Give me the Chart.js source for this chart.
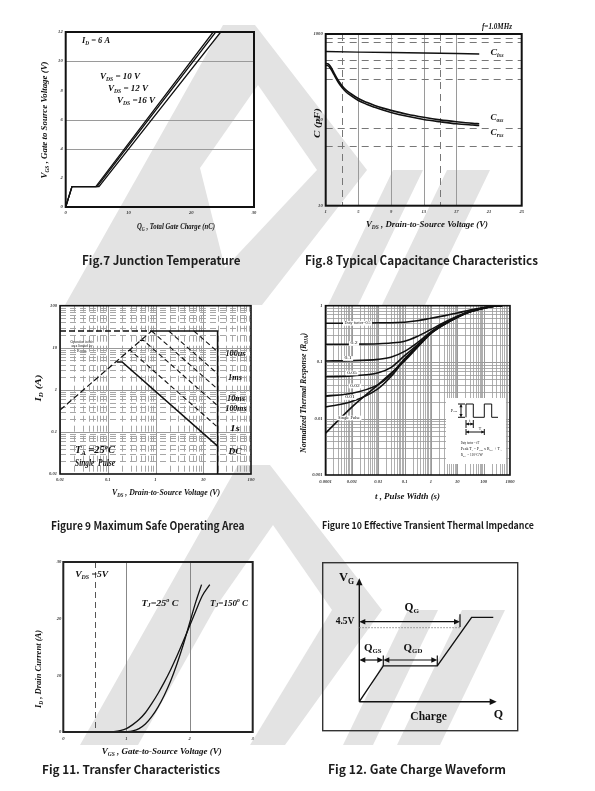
<!DOCTYPE html>
<html>
<head>
<meta charset="utf-8">
<script src="https://cdn.jsdelivr.net/npm/chart.js@4.4.1/dist/chart.umd.min.js"></script>
<style>
  html, body { margin:0; padding:0; background:#ffffff; }
  body { width:595px; height:791px; position:relative; overflow:hidden; }
  canvas { position:absolute; }
  .cap { position:absolute; font-family:"Noto Sans CJK SC","Noto Sans",sans-serif; font-weight:700; color:#1c1c1c; white-space:nowrap; transform-origin:0 50%; line-height:1; }
</style>
</head>
<body>
<canvas id="wm" width="595" height="791" style="left:0;top:0"></canvas>
<canvas id="c7"></canvas>
<canvas id="c8"></canvas>
<canvas id="c9"></canvas>
<canvas id="c10"></canvas>
<canvas id="c11"></canvas>
<canvas id="c12"></canvas>
<script>
// ================= DATA =================
// Fig.7 gate charge
const fig7XTicks = [0, 10, 20, 30];
const fig7YTicks = [0, 2, 4, 6, 8, 10, 12];
const fig7Q10 = [0, 1.0, 4.8, 23.5];
const fig7V10 = [0, 1.4, 1.4, 12];
const fig7Q12 = [0, 1.0, 5.0, 23.9];
const fig7V12 = [0, 1.4, 1.4, 12];
const fig7Q16 = [0, 1.0, 5.3, 24.7];
const fig7V16 = [0, 1.4, 1.4, 12];

// Fig.8 capacitance
const fig8XTicks = [1, 5, 9, 13, 17, 21, 25];
const fig8YTicks = [10, 100, 1000];
const fig8CissV = [1, 5, 9, 13, 17, 19.8];
const fig8Ciss = [625, 615, 607, 600, 593, 585];
const fig8V = [1, 1.25, 1.5, 1.75, 2, 2.5, 3, 3.5, 4, 5, 6, 7, 8, 9, 11, 13, 15, 17, 19, 19.8];
const fig8Coss = [455, 450, 430, 395, 355, 292, 250, 222, 204, 177, 160, 147, 137, 129, 116, 107, 100, 95, 91, 90];
const fig8Crss = [432, 428, 408, 375, 338, 278, 238, 211, 194, 168, 152, 140, 130, 122, 110, 101, 95, 90, 87, 86];

// Fig.9 SOA
const fig9Ticks = [0.01, 0.1, 1, 10, 100];
const fig9LimV = [0.01, 0.83];
const fig9LimI = [25, 25];
const fig9BoxV = [0.83, 20, 20];
const fig9BoxI = [25, 25, 0.01];
const fig9RdsV = [0.01, 0.83];
const fig9RdsI = [0.33, 25];
const fig9DcV = [0.155, 0.2, 20];
const fig9DcI = [4.6, 4.6, 0.046];
const fig9S1V = [0.265, 0.3, 20];
const fig9S1I = [8.6, 8.6, 0.13];
const fig9Ms100V = [0.47, 0.56, 20];
const fig9Ms100I = [15, 15, 0.42];
const fig9Ms10V = [0.83, 20];
const fig9Ms10I = [25, 1.04];
const fig9Ms1V = [1.9, 20];
const fig9Ms1I = [25, 2.4];
const fig9Us100V = [6.4, 20];
const fig9Us100I = [25, 8];

// Fig.10 transient thermal impedance
const fig10XTicks = [0.0001, 0.001, 0.01, 0.1, 1, 10, 100, 1000];
const fig10YTicks = [0.001, 0.01, 0.1, 1];
const fig10T = [1e-4, 1e-3, 1e-2, 3e-2, 0.1, 0.3, 1, 3, 10, 30, 100, 300, 500];
const fig10D50 = [0.49, 0.49, 0.50, 0.50, 0.51, 0.54, 0.60, 0.66, 0.74, 0.84, 0.93, 0.99, 1.0];
const fig10D20 = [0.207, 0.208, 0.212, 0.218, 0.235, 0.285, 0.38, 0.50, 0.65, 0.80, 0.92, 0.99, 1.0];
const fig10D10 = [0.105, 0.106, 0.112, 0.122, 0.155, 0.22, 0.345, 0.48, 0.64, 0.79, 0.91, 0.99, 1.0];
const fig10D05 = [0.055, 0.057, 0.065, 0.08, 0.13, 0.20, 0.335, 0.47, 0.635, 0.785, 0.91, 0.99, 1.0];
const fig10D02 = [0.025, 0.028, 0.04, 0.06, 0.115, 0.19, 0.33, 0.465, 0.63, 0.78, 0.905, 0.99, 1.0];
const fig10D01 = [0.016, 0.02, 0.034, 0.055, 0.11, 0.185, 0.325, 0.46, 0.625, 0.78, 0.905, 0.99, 1.0];
const fig10Single = [0.0055, 0.016, 0.04, 0.063, 0.105, 0.18, 0.32, 0.455, 0.62, 0.775, 0.90, 0.99, 1.0];
const fig10Labels = ['Duty factor=0.5', '0.2', '0.1', '0.05', '0.02', '0.01', 'Single Pulse'];

// Fig.11 transfer
const fig11XTicks = [0, 1, 2, 3];
const fig11YTicks = [0, 10, 20, 30];
const fig11V25 = [0, 0.9, 1.0, 1.1, 1.2, 1.3, 1.4, 1.5, 1.6, 1.7, 1.8, 1.9, 2.0, 2.1, 2.19];
const fig11I25 = [0, 0, 0.05, 0.2, 0.6, 1.4, 2.7, 4.4, 6.5, 9.0, 12.0, 15.4, 19.2, 23.0, 26.0];
const fig11V150 = [0, 0.7, 0.8, 0.9, 1.0, 1.1, 1.2, 1.3, 1.4, 1.5, 1.6, 1.7, 1.8, 1.9, 2.0, 2.1, 2.2, 2.32];
const fig11I150 = [0, 0.02, 0.08, 0.25, 0.6, 1.3, 2.2, 3.4, 5.0, 6.8, 8.8, 11.0, 13.4, 16.0, 18.7, 21.4, 24.0, 26.0];

// Fig.12 gate charge waveform (schematic units)
const fig12Q = [0, 1.23, 4.0, 5.76, 6.87];
const fig12V = [0, 2.13, 2.13, 5.02, 5.02];

// ================= HELPERS =================
const SERIF = '"Liberation Serif","DejaVu Serif",serif';
function pts(xs, ys) { return xs.map((x, i) => ({ x: x, y: ys[i] })); }

function parse(s) {
  const out = [];
  s.split(/(_\{[^}]*\}|\^\{[^}]*\})/).forEach(seg => {
    if (!seg) return;
    if (seg.startsWith('_{')) out.push([seg.slice(2, -1), 1]);
    else if (seg.startsWith('^{')) out.push([seg.slice(2, -1), 2]);
    else out.push([seg, 0]);
  });
  return out;
}

function richText(ctx, str, x, y, o) {
  const parts = parse(str);
  const size = o.size || 9;
  const fam = o.family || SERIF;
  const st = o.style === undefined ? 'italic' : o.style;
  const wt = o.weight === undefined ? 'bold' : o.weight;
  const font = k => `${st} ${wt} ${k ? size * 0.62 : size}px ${fam}`;
  ctx.save();
  let w = 0;
  for (const [t, k] of parts) { ctx.font = font(k); w += ctx.measureText(t).width; }
  const sx = o.w ? o.w / w : 1;
  ctx.translate(x, y);
  if (o.rot) ctx.rotate(o.rot);
  ctx.scale(sx, 1);
  let cx = o.align === 'left' ? 0 : (o.align === 'right' ? -w : -w / 2);
  if (o.bg) { ctx.fillStyle = o.bg; ctx.fillRect(cx - 1.5 / sx, -size * 0.62, w + 3 / sx, size * 1.24); }
  ctx.fillStyle = o.color || '#111';
  ctx.textBaseline = 'middle';
  ctx.textAlign = 'left';
  for (const [t, k] of parts) {
    ctx.font = font(k);
    const dy = k === 1 ? size * 0.3 : (k === 2 ? -size * 0.33 : 0);
    ctx.fillText(t, cx, dy);
    cx += ctx.measureText(t).width;
  }
  ctx.restore();
}

function setupCanvas(id, box) {
  const c = document.getElementById(id);
  c.width = box[2]; c.height = box[3];
  c.style.left = box[0] + 'px'; c.style.top = box[1] + 'px';
  c.style.width = box[2] + 'px'; c.style.height = box[3] + 'px';
  return c;
}

function mkScale(type, min, max, tickVals, size, isX, pad, display) {
  if (display === undefined) display = true;
  return {
    type: type, min: min, max: max, display: display,
    grid: { display: false, drawTicks: false },
    border: { display: false },
    ticks: {
      display: display, autoSkip: false, maxRotation: 0, minRotation: 0, padding: pad,
      font: { family: SERIF, size: 4.6, style: 'italic', weight: 'bold' }, color: '#3a3a3a',
      callback: v => String(v)
    },
    afterBuildTicks: s => { s.ticks = tickVals.map(v => ({ value: v })); },
    afterFit: s => {
      if (isX) s.height = size; else s.width = size;
      s.paddingLeft = 0; s.paddingRight = 0; s.paddingTop = 0; s.paddingBottom = 0;
    }
  };
}

function ds(xs, ys, o) {
  return Object.assign({ data: pts(xs, ys), showLine: true, borderColor: '#111', backgroundColor: '#111',
    borderWidth: 1.3, pointRadius: 0, fill: false, tension: 0 }, o || {});
}

function framePlugin(width, color) {
  return { id: 'frame', afterDatasetsDraw(chart) {
    const { ctx, chartArea: a } = chart;
    ctx.save(); ctx.strokeStyle = color; ctx.lineWidth = width;
    ctx.strokeRect(a.left, a.top, a.right - a.left, a.bottom - a.top); ctx.restore();
  } };
}

function gridPlugin(lines) {
  return { id: 'grid', beforeDatasetsDraw(chart) {
    const { ctx, chartArea: a, scales } = chart;
    ctx.save(); ctx.beginPath(); ctx.rect(a.left, a.top, a.right - a.left, a.bottom - a.top); ctx.clip();
    for (const g of lines) {
      ctx.beginPath(); ctx.strokeStyle = g.color; ctx.lineWidth = g.width; ctx.setLineDash(g.dash || []);
      if (g.axis === 'x') { const p = Math.round(scales.x.getPixelForValue(g.v)) + 0.5; ctx.moveTo(p, a.top); ctx.lineTo(p, a.bottom); }
      else { const p = Math.round(scales.y.getPixelForValue(g.v)) + 0.5; ctx.moveTo(a.left, p); ctx.lineTo(a.right, p); }
      ctx.stroke();
    }
    ctx.restore();
  } };
}

function textPlugin(box, items) {
  return { id: 'txt', afterDraw(chart) {
    for (const it of items) richText(chart.ctx, it.t, it.x - box[0], it.y - box[1], it);
  } };
}

function logLines(lo, hi) {
  const out = [];
  for (let e = Math.round(Math.log10(lo)); e < Math.round(Math.log10(hi)); e++)
    for (let k = 1; k < 10; k++) out.push({ v: +(k * Math.pow(10, e)).toPrecision(3), major: k === 1 });
  return out;
}

function makeChart(id, box, plot, xs, ys, datasets, plugins, yW, xH) {
  const c = setupCanvas(id, box);
  const pad = {
    left: plot[0] - box[0] - yW,
    top: plot[1] - box[1],
    right: box[0] + box[2] - plot[2],
    bottom: box[1] + box[3] - plot[3] - xH
  };
  return new Chart(c, {
    type: 'scatter',
    data: { datasets: datasets },
    options: {
      responsive: false, animation: false, events: [], devicePixelRatio: 1,
      layout: { padding: pad },
      plugins: { legend: { display: false }, tooltip: { enabled: false } },
      scales: { x: xs, y: ys }
    },
    plugins: plugins
  });
}

// ================= WATERMARK =================
(function () {
  const ctx = document.getElementById('wm').getContext('2d');
  const poly = (p, dx, dy, col) => { ctx.beginPath(); p.forEach((q, i) => i ? ctx.lineTo(q[0] + dx, q[1] + dy) : ctx.moveTo(q[0] + dx, q[1] + dy)); ctx.closePath(); ctx.fillStyle = col; ctx.fill(); };
  const G = '#e3e3e3';
  // top logo
  poly([[223, 25], [255, 25], [367, 170], [262, 305], [65, 305]], 0, 0, G);
  poly([[200, 168], [258, 85], [317, 170], [225, 268]], 0, 0, '#fff');
  poly([[393, 170], [423, 170], [358, 305], [328, 305]], 0, 0, G);
  poly([[447, 170], [490, 170], [425, 305], [382, 305]], 0, 0, G);
  // bottom logo (interior open to the bottom)
  poly([[238, 465], [270, 465], [382, 610], [285, 745], [80, 745]], 0, 0, G);
  poly([[215, 608], [273, 525], [332, 610], [250, 745], [138, 745]], 0, 0, '#fff');
  poly([[408, 610], [438, 610], [373, 745], [343, 745]], 0, 0, G);
  poly([[462, 610], [505, 610], [440, 745], [397, 745]], 0, 0, G);
})();

// ================= FIG 7 =================
(function () {
  const box = [28, 20, 246, 222], plot = [65.7, 32, 254, 207];
  makeChart('c7', box, plot,
    mkScale('linear', 0, 30, fig7XTicks, 10, true, 3),
    mkScale('linear', 0, 12, fig7YTicks, 14, false, 3),
    [ds(fig7Q10, fig7V10), ds(fig7Q12, fig7V12), ds(fig7Q16, fig7V16)],
    [gridPlugin([4, 6, 10].map(v => ({ axis: 'y', v: v, color: '#9a9a9a', width: 1 }))),
     framePlugin(2, '#111'),
     textPlugin(box, [
       { t: 'Q_{G} , Total Gate Charge (nC)', x: 176, y: 227, size: 9, w: 78 },
       { t: 'V_{GS} , Gate to Source Voltage (V)', x: 45, y: 120, size: 9, w: 117, rot: -Math.PI / 2 },
       { t: 'I_{D} = 6 A', x: 96, y: 41, size: 8.5, w: 28 },
       { t: 'V_{DS} = 10 V', x: 120, y: 77, size: 8.5, w: 40 },
       { t: 'V_{DS} = 12 V', x: 128, y: 89, size: 8.5, w: 40 },
       { t: 'V_{DS} =16 V', x: 136, y: 101, size: 8.5, w: 38 }
     ])], 14, 10);
})();

// ================= FIG 8 =================
(function () {
  const box = [290, 18, 270, 224], plot = [325.7, 34, 521.7, 205.7];
  const g = [];
  [5, 9, 13, 17].forEach(v => g.push({ axis: 'x', v: v, color: '#9a9a9a', width: 1 }));
  [3, 15].forEach(v => g.push({ axis: 'x', v: v, color: '#777', width: 1, dash: [7, 5] }));
  [900, 800, 500, 400, 300, 80, 50].forEach(v => g.push({ axis: 'y', v: v, color: '#777', width: 1, dash: [7, 5] }));
  makeChart('c8', box, plot,
    mkScale('linear', 1, 25, fig8XTicks, 10, true, 3),
    mkScale('logarithmic', 10, 1000, fig8YTicks, 14, false, 3),
    [ds(fig8CissV, fig8Ciss, { borderWidth: 1.5 }),
     ds(fig8V, fig8Coss, { borderWidth: 1.6, cubicInterpolationMode: 'monotone' }),
     ds(fig8V, fig8Crss, { borderWidth: 1.6, cubicInterpolationMode: 'monotone' })],
    [gridPlugin(g), framePlugin(2, '#111'),
     textPlugin(box, [
       { t: 'f=1.0MHz', x: 497, y: 27, size: 8, w: 30 },
       { t: 'V_{DS} , Drain-to-Source Voltage (V)', x: 427, y: 225, size: 9, w: 122 },
       { t: 'C (pF)', x: 318, y: 123, size: 9, w: 30, rot: -Math.PI / 2 },
       { t: 'C_{iss}', x: 497, y: 53, size: 8.5, w: 13, bg: '#fff' },
       { t: 'C_{oss}', x: 497, y: 118, size: 8.5, w: 13, bg: '#fff' },
       { t: 'C_{rss}', x: 497, y: 133, size: 8.5, w: 13, bg: '#fff' }
     ])], 14, 10);
})();

// ================= FIG 9 =================
(function () {
  const box = [28, 296, 246, 212], plot = [60, 305.7, 251, 474];
  const g = [];
  logLines(0.01, 100).forEach(o => {
    ['x', 'y'].forEach(ax => g.push(o.major ? { axis: ax, v: o.v, color: '#999', width: 1 }
      : { axis: ax, v: o.v, color: '#9d9d9d', width: 0.9, dash: [6, 4] }));
  });
  const dsh = { borderDash: [5, 3], borderWidth: 1.1 };
  makeChart('c9', box, plot,
    mkScale('logarithmic', 0.01, 100, fig9Ticks, 10, true, 3),
    mkScale('logarithmic', 0.01, 100, fig9Ticks, 14, false, 3),
    [ds(fig9LimV, fig9LimI, { borderDash: [6, 3], borderWidth: 1.6 }),
     ds(fig9BoxV, fig9BoxI, { borderWidth: 1.6 }),
     ds(fig9RdsV, fig9RdsI, { borderDash: [6, 3], borderWidth: 1.2 }),
     ds(fig9DcV, fig9DcI, { borderWidth: 1.5 }),
     ds(fig9S1V, fig9S1I, dsh),
     ds(fig9Ms100V, fig9Ms100I, dsh),
     ds(fig9Ms10V, fig9Ms10I, dsh),
     ds(fig9Ms1V, fig9Ms1I, dsh),
     ds(fig9Us100V, fig9Us100I, dsh)],
    [gridPlugin(g), framePlugin(1.6, '#111'),
     textPlugin(box, [
       { t: 'V_{DS} , Drain-to-Source Voltage (V)', x: 166, y: 493, size: 9, w: 108 },
       { t: 'I_{D} (A)', x: 39, y: 388, size: 9, w: 27, rot: -Math.PI / 2 },
       { t: 'Operation in this', x: 82, y: 341.7, size: 3.6, w: 23, style: 'normal', weight: 'normal' },
       { t: 'area limited by', x: 82, y: 346.2, size: 3.6, w: 21, style: 'normal', weight: 'normal' },
       { t: 'R_{DS(on)}', x: 82, y: 350.8, size: 3.6, w: 10, style: 'normal', weight: 'normal' },
       { t: 'T_{A} =25^{o}C', x: 95, y: 450.7, size: 10, w: 40 },
       { t: 'Single  Pulse', x: 95, y: 463.3, size: 10, w: 40 },
       { t: '100us', x: 235.5, y: 353.3, size: 9, w: 20 },
       { t: '1ms', x: 235, y: 377.3, size: 9, w: 14 },
       { t: '10ms', x: 236, y: 399, size: 9, w: 18 },
       { t: '100ms', x: 236, y: 408.3, size: 9, w: 21 },
       { t: '1s', x: 235, y: 428.3, size: 9, w: 10 },
       { t: 'DC', x: 235, y: 451.7, size: 9, w: 13 }
     ])], 14, 10);
})();

// ================= FIG 10 =================
(function () {
  const box = [290, 296, 270, 212], plot = [325.5, 305.7, 510, 475];
  const g = [];
  logLines(0.0001, 1000).forEach(o => g.push({ axis: 'x', v: o.v, color: '#9a9a9a', width: o.major ? 1 : 0.8 }));
  logLines(0.001, 1).forEach(o => g.push({ axis: 'y', v: o.v, color: '#9a9a9a', width: o.major ? 1 : 0.8 }));
  const cw = { borderWidth: 1.6, cubicInterpolationMode: 'monotone' };
  const labelPos = [[357.5, 323.3], [354, 343.5], [348, 358.5], [352, 373], [355, 386], [350, 397.5], [349, 418]];
  const inset = {
    id: 'inset', afterDatasetsDraw(chart) {
      const ctx = chart.ctx, ox = box[0], oy = box[1];
      ctx.save();
      ctx.fillStyle = '#fff';
      ctx.fillRect(446 - ox, 398 - oy, 60, 66);
      labelPos.forEach((p, i) => richText(ctx, fig10Labels[i], p[0] - ox, p[1] - oy,
        { size: 3.8, style: 'normal', weight: 'normal', bg: '#fff', w: i === 0 ? 26 : (i === 6 ? 22 : fig10Labels[i].length * 2.4) }));
      ctx.strokeStyle = '#111'; ctx.fillStyle = '#111'; ctx.lineWidth = 1;
      const L = (p) => { ctx.beginPath(); p.forEach((q, i) => i ? ctx.lineTo(q[0] - ox, q[1] - oy) : ctx.moveTo(q[0] - ox, q[1] - oy)); ctx.stroke(); };
      L([[466, 417.3], [466, 404], [473.3, 404], [473.3, 417.3], [484.3, 417.3], [484.3, 404], [491.7, 404], [491.7, 417.3], [498, 417.3]]);
      L([[458, 404], [465, 404]]); L([[458, 417.3], [465, 417.3]]);
      const head = (x, y, ang) => { ctx.save(); ctx.translate(x - ox, y - oy); ctx.rotate(ang); ctx.beginPath(); ctx.moveTo(0, 0); ctx.lineTo(-3, -1.6); ctx.lineTo(-3, 1.6); ctx.closePath(); ctx.fill(); ctx.restore(); };
      L([[461, 404.5], [461, 416.8]]); head(461, 404.3, -Math.PI / 2); head(461, 417, Math.PI / 2);
      L([[466, 420], [466, 428]]); L([[473.3, 420], [473.3, 428]]); L([[466, 424], [473.3, 424]]); head(473.3, 424, 0); head(466, 424, Math.PI);
      L([[466, 429], [466, 435]]); L([[484.3, 429], [484.3, 435]]); L([[466, 432], [484.3, 432]]); head(484.3, 432, 0); head(466, 432, Math.PI);
      richText(ctx, 'P_{DM}', 454 - ox, 410.5 - oy, { size: 4.2, style: 'normal', weight: 'normal' });
      richText(ctx, 't', 469.7 - ox, 420.5 - oy, { size: 4, style: 'normal', weight: 'normal' });
      richText(ctx, 'T', 480 - ox, 429 - oy, { size: 4, style: 'normal', weight: 'normal' });
      richText(ctx, 'Duty factor = t/T', 460.7 - ox, 443.3 - oy, { size: 3.8, style: 'normal', weight: 'normal', align: 'left', w: 18.7 });
      richText(ctx, 'Peak T_{J} = P_{DM} x R_{θJA} + T_{A}', 460.7 - ox, 449.3 - oy, { size: 3.8, style: 'normal', weight: 'normal', align: 'left', w: 41 });
      richText(ctx, 'R_{θJA} = 110°C/W', 460.7 - ox, 455 - oy, { size: 3.8, style: 'normal', weight: 'normal', align: 'left', w: 22 });
      ctx.restore();
    }
  };
  makeChart('c10', box, plot,
    mkScale('logarithmic', 0.0001, 1000, fig10XTicks, 10, true, 4),
    mkScale('logarithmic', 0.001, 1, fig10YTicks, 16, false, 3),
    [ds(fig10T, fig10D50, cw), ds(fig10T, fig10D20, cw), ds(fig10T, fig10D10, cw), ds(fig10T, fig10D05, cw),
     ds(fig10T, fig10D02, cw), ds(fig10T, fig10D01, cw), ds(fig10T, fig10Single, cw)],
    [gridPlugin(g), framePlugin(1.6, '#111'), inset,
     textPlugin(box, [
       { t: 't , Pulse Width (s)', x: 407.5, y: 496.7, size: 9, w: 65 },
       { t: 'Normalized Thermal Response (R_{θJA})', x: 304, y: 393, size: 9, w: 120, rot: -Math.PI / 2 }
     ])], 16, 10);
})();

// ================= FIG 11 =================
(function () {
  const box = [28, 555, 246, 205], plot = [63.3, 562, 252.7, 732];
  const g = [{ axis: 'x', v: 1, color: '#888', width: 1 }, { axis: 'x', v: 2, color: '#888', width: 1 },
             { axis: 'x', v: 0.5, color: '#555', width: 1, dash: [6, 4] }];
  const cw = { borderWidth: 1.3, cubicInterpolationMode: 'monotone' };
  makeChart('c11', box, plot,
    mkScale('linear', 0, 3, fig11XTicks, 10, true, 4),
    mkScale('linear', 0, 30, fig11YTicks, 14, false, 2),
    [ds(fig11V25, fig11I25, cw), ds(fig11V150, fig11I150, cw)],
    [gridPlugin(g), framePlugin(2, '#222'),
     textPlugin(box, [
       { t: 'V_{DS} =5V', x: 91.7, y: 575, size: 9, w: 33 },
       { t: 'T_{J}=25^{o} C', x: 160, y: 603.3, size: 9, w: 37 },
       { t: 'T_{J}=150^{o} C', x: 229, y: 603.3, size: 9, w: 38 },
       { t: 'V_{GS} , Gate-to-Source Voltage (V)', x: 161.7, y: 751.7, size: 8.5, w: 120 },
       { t: 'I_{D} , Drain Current (A)', x: 39, y: 669, size: 8.5, w: 78, rot: -Math.PI / 2 }
     ])], 14, 10);
})();

// ================= FIG 12 =================
(function () {
  const box = [318, 558, 204, 178], plot = [322.7, 562.7, 517.7, 730.7];
  const schem = {
    id: 'schem', afterDatasetsDraw(chart) {
      const { ctx, scales: { x, y } } = chart;
      const X = v => x.getPixelForValue(v), Y = v => y.getPixelForValue(v);
      ctx.save();
      ctx.strokeStyle = '#111'; ctx.fillStyle = '#111'; ctx.lineWidth = 1.4;
      const line = (a, b, c, d) => { ctx.beginPath(); ctx.moveTo(X(a), Y(b)); ctx.lineTo(X(c), Y(d)); ctx.stroke(); };
      const head = (a, b, ang, len, hw) => { ctx.save(); ctx.translate(X(a), Y(b)); ctx.rotate(ang); ctx.beginPath(); ctx.moveTo(0, 0); ctx.lineTo(-len, -hw); ctx.lineTo(-len, hw); ctx.closePath(); ctx.fill(); ctx.restore(); };
      line(0, 0, 0, 7.1); head(0, 7.345, -Math.PI / 2, 7, 3.2);
      line(0, 0, 6.8, 0); head(7.046, 0, 0, 7, 3.2);
      ctx.save(); ctx.strokeStyle = '#888'; ctx.lineWidth = 1; ctx.setLineDash([1.5, 1.5]); line(0, 4.405, 5.164, 4.405); ctx.restore();
      ctx.lineWidth = 1.2;
      line(0.25, 4.762, 4.9, 4.762); head(0, 4.762, Math.PI, 6, 2.8); head(5.164, 4.762, 0, 6, 2.8);
      line(5.164, 4.45, 5.164, 5.2);
      line(0.25, 2.482, 1.0, 2.482); head(0, 2.482, Math.PI, 6, 2.8); head(1.231, 2.482, 0, 6, 2.8);
      line(1.5, 2.482, 3.75, 2.482); head(1.231, 2.482, Math.PI, 6, 2.8); head(4.0, 2.482, 0, 6, 2.8);
      line(1.231, 2.13, 1.231, 2.75); line(4.0, 2.13, 4.0, 2.75);
      ctx.restore();
      const t = (s, a, b, sz) => richText(ctx, s, X(a), Y(b), { size: sz, style: 'normal', weight: 'bold' });
      t('V_{G}', -0.66, 7.35, 12.5);
      t('4.5V', -0.73, 4.76, 9.5);
      t('Q_{G}', 2.69, 5.58, 11.5);
      t('Q_{GS}', 0.69, 3.2, 11);
      t('Q_{GD}', 2.75, 3.2, 11);
      t('Charge', 3.55, -0.89, 11.5);
      t('Q', 7.13, -0.79, 12);
    }
  };
  makeChart('c12', box, plot,
    mkScale('linear', -1.877, 8.123, [], 0, true, 0, false),
    mkScale('linear', -1.726, 8.274, [], 0, false, 0, false),
    [ds(fig12Q, fig12V, { borderWidth: 1.4 })],
    [framePlugin(1.4, '#333'), schem], 0, 0);
})();

// ================= CAPTIONS =================
const captions = [
  ['Fig.7 Junction Temperature', 82, 240.5, 260, 13.5],
  ['Fig.8 Typical Capacitance Characteristics', 305, 538, 260, 13.5],
  ['Figure 9 Maximum Safe Operating Area', 50.5, 244, 526, 12.5],
  ['Figure 10 Effective Transient Thermal Impedance', 321.6, 533.6, 526, 11],
  ['Fig 11. Transfer Characteristics', 41.8, 219.8, 769, 12.7],
  ['Fig 12. Gate Charge Waveform', 327.8, 505.7, 769, 12.7]
];
captions.forEach(([txt, l, r, cy, fs]) => {
  const d = document.createElement('div');
  d.className = 'cap';
  d.textContent = txt;
  d.style.fontSize = fs + 'px';
  d.style.left = l + 'px';
  document.body.appendChild(d);
  const w0 = d.getBoundingClientRect().width;
  const k = (r - l) / w0;
  const fs2 = fs * Math.pow(k, 0.6);
  d.style.fontSize = fs2.toFixed(2) + 'px';
  d.style.top = (cy - fs2 * 0.52) + 'px';
  const w1 = d.getBoundingClientRect().width;
  d.style.transform = `scaleX(${((r - l) / w1).toFixed(4)})`;
});
</script>
</body>
</html>
